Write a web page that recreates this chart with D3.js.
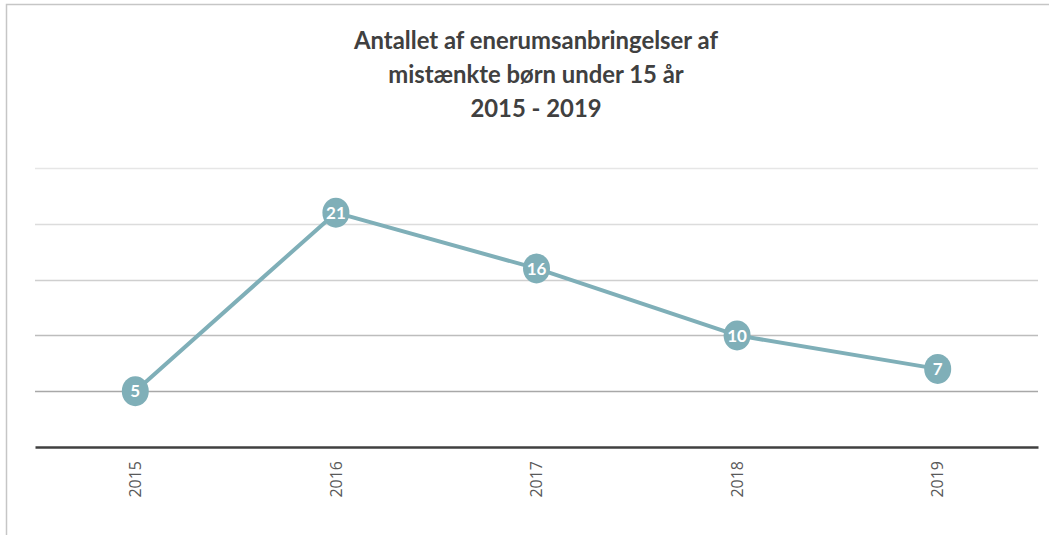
<!DOCTYPE html>
<html><head><meta charset="utf-8">
<script src="https://cdn.jsdelivr.net/npm/d3@7"></script>
<style>html,body{margin:0;padding:0;background:#fff;}svg{display:block;}</style>
</head><body>
<svg id="c" width="1049" height="535"></svg>
<script>
const titleLines = ["Antallet af enerumsanbringelser af", "mistænkte børn under 15 år", "2015 - 2019"];
const years = ["2015", "2016", "2017", "2018", "2019"];
const values = [5, 21, 16, 10, 7];
const gridTicks = [5, 10, 15, 20, 25];
const gridColors = ["#a8a8a8", "#bdbdbd", "#cfcfcf", "#dcdcdc", "#e6e6e6"];

const svg = d3.select("#c");
const W = 1049, H = 535;
svg.append("rect").attr("width", W).attr("height", H).attr("fill", "#fff");
svg.append("rect").attr("x", 6.5).attr("y", 4.5).attr("width", W + 20).attr("height", H + 20)
  .attr("fill", "none").attr("stroke", "#c6c6c6").attr("stroke-width", 1.5);

const x = d3.scaleBand().domain(years).range([35, 1038]).padding(0);
const y = d3.scaleLinear().domain([0, 25]).range([447, 168]);

// title
const tt = svg.append("g").selectAll("text").data(titleLines).join("text")
  .attr("x", 536).attr("y", (d, i) => 49 + i * 34)
  .attr("text-anchor", "middle")
  .attr("font-family", "Lato, 'Open Sans', sans-serif")
  .attr("font-weight", "bold")
  .attr("font-size", 23)
  .attr("fill", "#404040")
  .text(d => d);
const w0 = tt.node().getComputedTextLength();
tt.attr("font-size", 23 * 364 / w0);

// gridlines
svg.append("g").selectAll("line").data(gridTicks).join("line")
  .attr("x1", 35).attr("x2", 1038)
  .attr("y1", d => Math.round(y(d)) + 0.5).attr("y2", d => Math.round(y(d)) + 0.5)
  .attr("stroke", (d, i) => gridColors[i]).attr("stroke-width", 1.6);

// x axis
const xAxis = d3.axisBottom(x).tickSize(0).tickPadding(14);
const ax = svg.append("g").attr("transform", "translate(0," + y(0) + ")").call(xAxis);
ax.attr("font-size", null).attr("font-family", null);
ax.select(".domain").attr("stroke", "#404040").attr("stroke-width", 2.5);
ax.selectAll(".tick text")
  .style("font-family", "'Open Sans', sans-serif")
  .style("font-size", "16px")
  .attr("fill", "#595959")
  .attr("transform", "rotate(-90)")
  .attr("text-anchor", "end")
  .attr("x", -14).attr("y", 0).attr("dy", "0.35em");

// line
const cx = d => x(d) + x.bandwidth() / 2;
const data = years.map((yr, i) => ({yr, v: values[i]}));
svg.append("path").datum(data)
  .attr("fill", "none").attr("stroke", "#7fafb8").attr("stroke-width", 4)
  .attr("stroke-linejoin", "round")
  .attr("d", d3.line().x(d => cx(d.yr)).y(d => y(d.v)));

const mk = svg.append("g").selectAll("g").data(data).join("g")
  .attr("transform", d => "translate(" + cx(d.yr) + "," + y(d.v) + ")");
mk.append("ellipse").attr("rx", 13.5).attr("ry", 15).attr("fill", "#7fafb8");
mk.append("text").attr("text-anchor", "middle").attr("dy", "0.36em")
  .attr("font-family", "Lato, 'Open Sans', sans-serif").attr("font-weight", "bold")
  .attr("font-size", 17).attr("fill", "#fff").text(d => d.v);
</script>
</body></html>
